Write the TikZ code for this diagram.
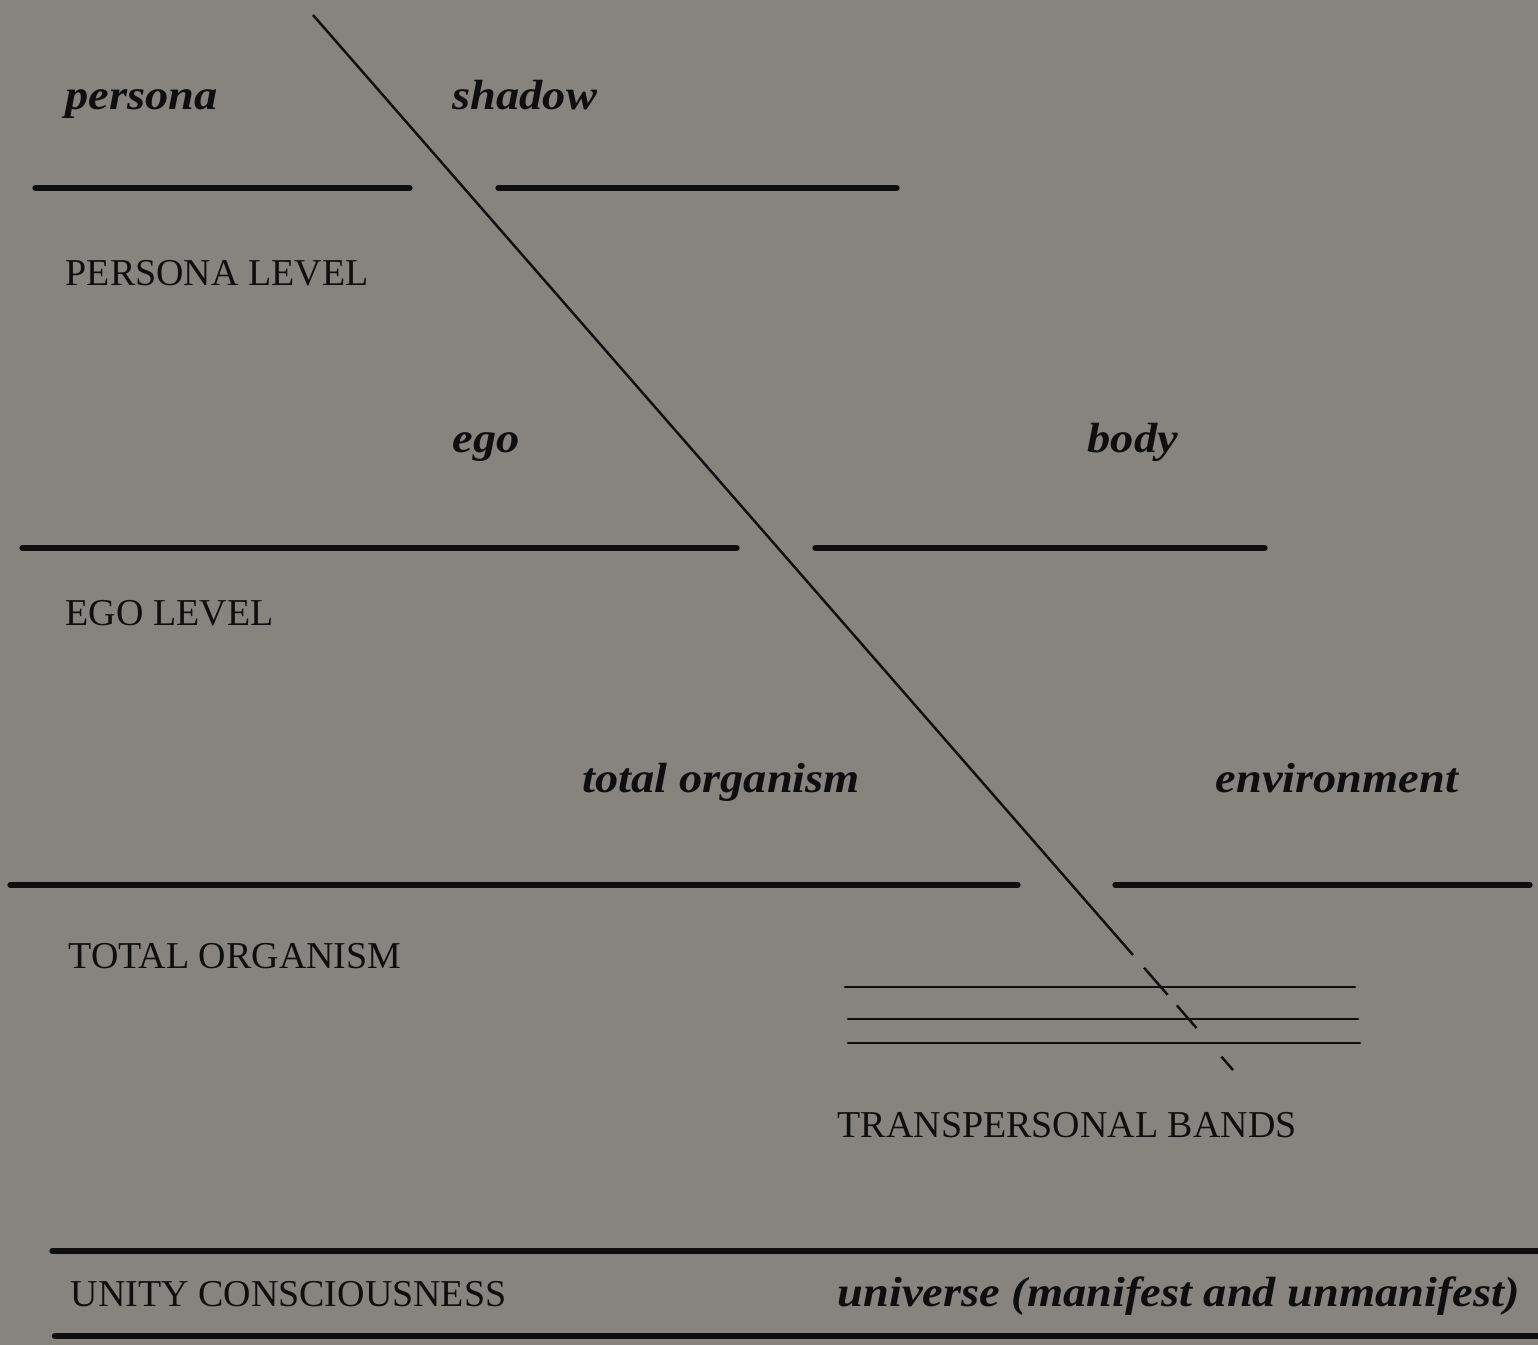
\documentclass[tikz,border=0pt]{standalone}
\usepackage{fontspec}
\setmainfont{Liberation Serif}
\newfontfamily\handfont{Liberation Serif}[FakeStretch=1.1]
\usetikzlibrary{positioning}
\definecolor{paper}{RGB}{135,132,127}
\definecolor{ink}{RGB}{14,14,14}
\tikzset{
  levelname/.style={anchor=base west, inner sep=0pt, text=ink,
                    font=\fontsize{10.8}{13}\selectfont},
  sidename/.style={anchor=base west, inner sep=0pt, text=ink,
                   font=\handfont\bfseries\itshape\fontsize{12}{14}\selectfont},
  bar/.style={line width=1.5pt, line cap=round, ink},
  band/.style={line width=0.8pt, line cap=round, ink},
  cutline/.style={line width=0.7pt, ink},
}
\begin{document}
\begin{tikzpicture}[x=0.01cm, y=-0.01cm]
\fill[paper] (0,0) rectangle (1538,1345);
\useasboundingbox (0,0) rectangle (1538,1345);

% the cut that splits each level
\coordinate (top) at (313,15);
\coordinate (cut) at (1133,955);
\coordinate (tail) at (1233,1070);
\draw[cutline] (top) -- (cut);
\draw[cutline, dash pattern=on 0pt off 4.8pt on 10.2pt off 4pt on 8.5pt off 10.8pt on 6pt] (cut) -- (tail);

% level boundaries, broken by the cut
\foreach \y/\a/\b/\c/\d in {188/35/410/498/897, 548/22/737/815/1265, 885/10/1018/1115/1530}
  \draw[bar] (\a,\y) -- (\b,\y) (\c,\y) -- (\d,\y);
\draw[bar] (52,1251) -- (1538,1251);
\draw[bar, line width=1.8pt] (55,1336) -- (1538,1336);

% transpersonal bands
\foreach \y/\a/\b in {987/845/1355, 1019/848/1358, 1043/848/1360}
  \draw[band] (\a,\y) -- (\b,\y);

% labels
\node[sidename] (persona) at (65,109) {persona};
\node[sidename] (shadow) at (452,109) {shadow};
\node[levelname] (personalevel) at (65,285) {PERSONA LEVEL};
\node[sidename] (ego) at (452,452) {ego};
\node[sidename] (body) at (1087,452) {body};
\node[levelname] (egolevel) at (65,625) {EGO LEVEL};
\node[sidename] (organism) at (582,792) {total organism};
\node[sidename] (environment) at (1215,792) {environment};
\node[levelname] (totalorganism) at (68,968) {TOTAL ORGANISM};
\node[levelname] (bands) at (837,1137) {TRANSPERSONAL BANDS};
\node[levelname] (unity) at (70,1306) {UNITY CONSCIOUSNESS};
\node[sidename] (universe) at (837,1306) {universe (manifest and unmanifest)};
\end{tikzpicture}
\end{document}
